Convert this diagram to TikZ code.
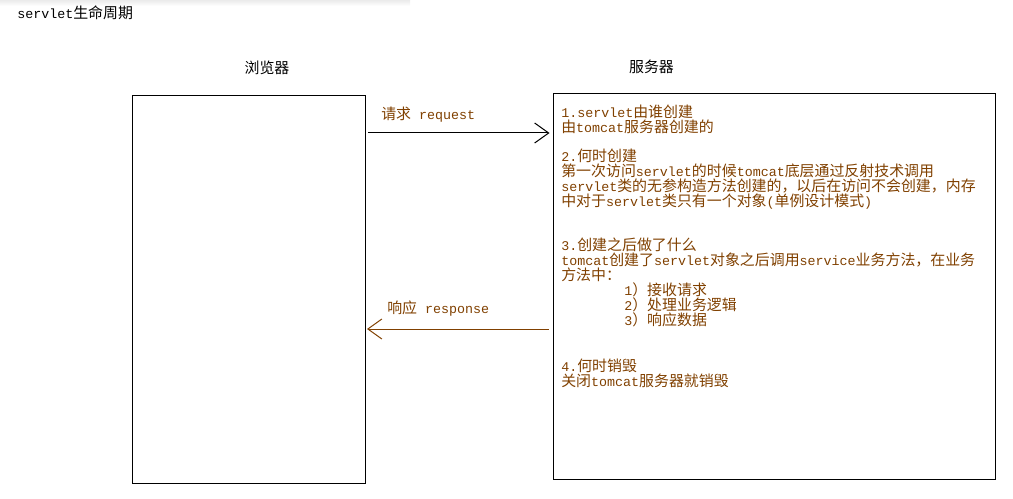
\documentclass[tikz,border=0pt]{standalone}
\usepackage{fontspec}
\setmainfont{Liberation Mono}
\newfontfamily\cjk{Noto Sans CJK SC}[Scale=1.12]
\usepackage{tikz}
\usetikzlibrary{arrows.meta}
\definecolor{txtbrown}{RGB}{128,64,0}
\tikzset{>={Straight Barb[length=10.5pt,width=15pt]}}
\tikzset{box/.style={draw, line width=0.75pt, inner sep=0pt},
  para/.style={anchor=north west, inner sep=0pt, align=left, text=txtbrown,
    font=\fontsize{10pt}{11.25pt}\selectfont},
  lbl/.style={inner sep=0pt, font=\fontsize{10pt}{11.25pt}\selectfont}}

\begin{document}
\begin{tikzpicture}[x=0.75pt,y=-0.75pt]
\useasboundingbox (0,0) rectangle (1013,499);
\shade [top color=black!8, bottom color=white, draw=none] (0,0) rectangle (410,6);

%Title
\node [lbl, anchor=west] (title) at (17,13) {servlet{\cjk 生命周期}};

%Browser
\node [lbl] (browserlabel) at (267,68) {\cjk 浏览器};
\node [box, minimum width=174.75pt, minimum height=290.25pt] (browser) at (249,289.5) {};

%Server
\node [lbl] (serverlabel) at (651.5,67) {\cjk 服务器};
\node [box, minimum width=331.5pt, minimum height=288.75pt] (server) at (774,286.5) {};

\node [para] (p1) at (561,105) {1.servlet{\cjk 由谁创建}\\
{\cjk 由}tomcat{\cjk 服务器创建的}};
\node [para] (p2) at (561,149) {2.{\cjk 何时创建}\\
{\cjk 第一次访问}servlet{\cjk 的时候}tomcat{\cjk 底层通过反射技术调用}\\
servlet{\cjk 类的无参构造方法创建的，以后在访问不会创建，内存}\\
{\cjk 中对于}servlet{\cjk 类只有一个对象}({\cjk 单例设计模式})};
\node [para] (p3) at (561,238) {3.{\cjk 创建之后做了什么}\\
tomcat{\cjk 创建了}servlet{\cjk 对象之后调用}service{\cjk 业务方法，在业务}\\
{\cjk 方法中：}\\
\hspace{47.25pt}1{\cjk ）接收请求}\\
\hspace{47.25pt}2{\cjk ）处理业务逻辑}\\
\hspace{47.25pt}3{\cjk ）响应数据}};
\node [para] (p4) at (561,359) {4.{\cjk 何时销毁}\\
{\cjk 关闭}tomcat{\cjk 服务器就销毁}};

%Request and response
\coordinate (req) at (0,133);
\coordinate (resp) at (0,329);
\draw [->, line width=0.75pt, shorten <=1.5pt, shorten >=2.25pt] (browser.east |- req) -- (server.west |- req);
\node [lbl, anchor=west, text=txtbrown] (reqlabel) at (381,115) {{\cjk 请求} request};
\draw [->, txtbrown, line width=0.75pt, shorten <=3pt, shorten >=0.75pt] (server.west |- resp) -- (browser.east |- resp);
\node [lbl, anchor=west, text=txtbrown] (resplabel) at (387,309) {{\cjk 响应} response};

\end{tikzpicture}
\end{document}
